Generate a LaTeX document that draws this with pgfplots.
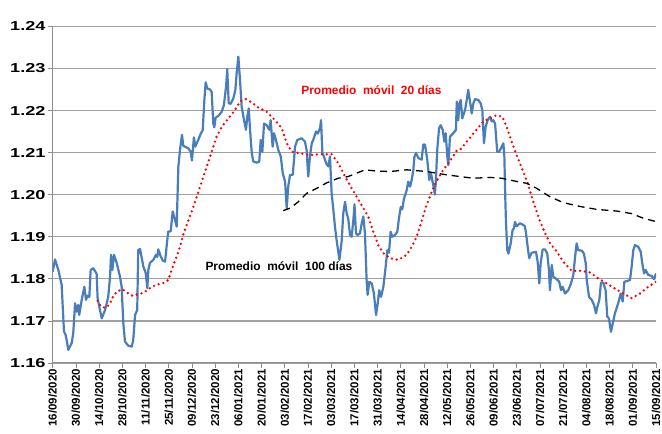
\documentclass[border=0pt]{standalone}
\usepackage{pgfplots}
\pgfplotsset{compat=1.18}
\usepackage{pgfplotstable}
\usepackage{graphicx}
\usepackage{fontspec}
\setmainfont{Liberation Sans}
\definecolor{serieblue}{RGB}{74,126,187}
\definecolor{gridgray}{RGB}{160,160,160}
\definecolor{axisgray}{RGB}{140,140,140}

\pgfplotstableread{
d v
0.0 1.1817
1.4 1.1846
3.4 1.1821
5.4 1.1786
6.8 1.1675
7.7 1.1668
8.4 1.1655
9.4 1.1631
11.5 1.1648
12.4 1.1671
13.5 1.1742
14.5 1.1722
15.4 1.1738
16.0 1.1714
17.5 1.1750
19.1 1.1781
20.1 1.1750
20.9 1.1760
22.1 1.1757
22.9 1.1821
24.5 1.1825
26.5 1.1812
27.1 1.1754
28.5 1.1726
29.6 1.1706
31.6 1.1726
33.5 1.1757
34.6 1.1805
35.2 1.1857
36.0 1.1821
37.0 1.1857
38.6 1.1838
40.6 1.1805
41.6 1.1781
42.6 1.1695
43.6 1.1651
45.6 1.1641
47.7 1.1639
48.6 1.1655
49.7 1.1714
51.0 1.1726
51.6 1.1868
52.7 1.1871
54.7 1.1829
56.1 1.1814
57.1 1.1778
57.7 1.1821
58.7 1.1838
60.7 1.1845
62.3 1.1857
63.1 1.1852
63.7 1.1870
65.0 1.1855
66.5 1.1843
67.8 1.1841
68.8 1.1880
69.7 1.1912
71.2 1.1913
72.4 1.1960
73.8 1.1940
74.8 1.1924
75.8 1.2066
76.8 1.2106
78.0 1.2142
78.8 1.2116
81.8 1.2110
83.3 1.2102
84.0 1.2081
85.2 1.2136
86.0 1.2114
87.8 1.2130
89.3 1.2145
90.5 1.2153
91.5 1.2225
92.3 1.2267
93.3 1.2252
94.9 1.2250
95.9 1.2244
96.9 1.2169
97.5 1.2160
98.3 1.2183
99.9 1.2187
102.0 1.2197
103.3 1.2213
104.6 1.2257
105.3 1.2298
106.2 1.2217
107.4 1.2216
109.0 1.2229
110.2 1.2249
111.0 1.2289
112.0 1.2328
113.0 1.2273
114.0 1.2209
115.4 1.2178
116.6 1.2154
117.4 1.2185
118.3 1.2205
119.0 1.2158
120.1 1.2099
121.0 1.2079
123.1 1.2076
124.6 1.2078
125.5 1.2130
126.5 1.2102
127.5 1.2169
129.1 1.2165
130.7 1.2154
131.5 1.2177
132.7 1.2114
133.5 1.2146
134.7 1.2130
136.1 1.2106
137.6 1.2091
138.8 1.2051
140.2 1.2031
141.2 1.1968
142.1 1.2019
143.2 1.2047
144.8 1.2047
145.6 1.2082
146.2 1.2114
147.6 1.2130
150.2 1.2134
152.2 1.2126
153.2 1.2106
154.2 1.2043
155.2 1.2091
156.3 1.2122
157.2 1.2130
158.9 1.2150
159.9 1.2145
161.3 1.2158
161.9 1.2177
162.7 1.2099
163.7 1.2090
164.9 1.2075
166.3 1.2067
167.3 1.2091
168.3 1.2003
169.3 1.1965
170.3 1.1924
171.3 1.1892
172.3 1.1864
173.0 1.1845
174.4 1.1892
175.3 1.1955
176.4 1.1983
177.4 1.1955
178.3 1.1943
179.4 1.1904
180.4 1.1900
181.4 1.1940
182.1 1.1977
183.0 1.1908
183.8 1.1904
185.4 1.1908
186.4 1.1931
187.4 1.1948
188.4 1.1908
189.4 1.1797
190.0 1.1762
191.0 1.1793
192.5 1.1789
193.8 1.1765
195.1 1.1714
196.1 1.1742
197.0 1.1773
198.1 1.1757
199.5 1.1781
200.9 1.1829
201.9 1.1868
202.9 1.1862
203.9 1.1912
204.9 1.1900
206.5 1.1904
207.9 1.1912
208.9 1.1943
210.0 1.1971
210.9 1.1965
211.9 1.1990
213.6 1.2011
214.5 1.2031
215.6 1.2019
216.6 1.2035
217.6 1.2059
218.2 1.2089
219.2 1.2099
220.6 1.2087
222.6 1.2083
223.6 1.2119
224.6 1.2119
226.0 1.2083
227.2 1.2035
228.2 1.2051
229.6 1.2023
230.6 1.2000
231.3 1.2043
232.0 1.2106
233.1 1.2158
234.1 1.2165
235.3 1.2154
236.3 1.2126
237.1 1.2146
238.1 1.2090
238.7 1.2070
239.7 1.2138
241.7 1.2146
243.3 1.2154
243.8 1.2221
244.7 1.2177
245.4 1.2217
246.2 1.2225
247.1 1.2181
248.8 1.2201
249.8 1.2225
250.7 1.2249
251.8 1.2221
252.8 1.2193
253.8 1.2217
254.8 1.2227
256.8 1.2225
258.2 1.2217
259.2 1.2201
260.2 1.2122
261.2 1.2161
262.4 1.2177
263.8 1.2185
264.9 1.2174
265.8 1.2177
266.9 1.2169
268.2 1.2102
269.4 1.2102
270.9 1.2114
271.9 1.2122
272.5 1.2091
273.1 1.1987
273.5 1.1932
274.3 1.1868
275.0 1.1860
276.3 1.1884
277.5 1.1916
278.3 1.1920
278.9 1.1935
279.9 1.1925
281.9 1.1932
283.9 1.1928
284.9 1.1925
285.6 1.1908
286.6 1.1875
287.5 1.1849
289.0 1.1862
291.6 1.1864
292.6 1.1840
293.6 1.1789
294.4 1.1837
295.6 1.1870
297.0 1.1870
298.4 1.1860
299.4 1.1821
300.0 1.1773
301.1 1.1833
302.0 1.1805
304.1 1.1799
305.6 1.1793
306.7 1.1773
307.7 1.1781
309.1 1.1765
311.1 1.1773
312.7 1.1789
314.1 1.1809
315.1 1.1849
316.1 1.1884
317.1 1.1868
319.2 1.1867
320.5 1.1860
321.6 1.1837
322.2 1.1797
323.6 1.1757
325.2 1.1750
326.6 1.1738
327.8 1.1718
328.6 1.1733
329.8 1.1750
330.8 1.1791
332.2 1.1791
333.6 1.1773
334.6 1.1710
335.6 1.1706
336.8 1.1674
337.9 1.1694
339.2 1.1718
341.2 1.1742
342.7 1.1765
343.9 1.1746
344.9 1.1793
346.7 1.1795
348.3 1.1797
349.3 1.1829
350.3 1.1868
351.3 1.1880
353.3 1.1876
354.8 1.1864
355.7 1.1837
356.8 1.1813
357.8 1.1821
359.3 1.1809
361.4 1.1807
362.8 1.1799
364.0 1.1813
}\daily

\pgfplotstableread{
d v
27.1 1.1748
29.0 1.1735
31.7 1.1731
34.1 1.1738
35.6 1.1750
36.6 1.1760
39.2 1.1771
42.2 1.1775
45.0 1.1767
48.0 1.1760
51.0 1.1763
54.3 1.1766
57.1 1.1773
59.7 1.1781
62.7 1.1786
66.7 1.1790
69.7 1.1797
71.2 1.1815
72.8 1.1833
74.8 1.1853
76.8 1.1876
78.8 1.1905
80.8 1.1928
83.9 1.1960
86.9 1.1995
89.9 1.2031
92.9 1.2066
95.9 1.2102
98.9 1.2138
102.2 1.2162
105.9 1.2181
110.0 1.2201
113.0 1.2221
116.6 1.2227
120.1 1.2219
124.0 1.2207
129.1 1.2197
134.1 1.2177
138.2 1.2158
141.2 1.2122
144.2 1.2102
149.2 1.2098
155.2 1.2094
161.3 1.2096
168.3 1.2096
172.3 1.2075
176.4 1.2043
180.4 1.2015
183.4 1.1995
186.4 1.1975
190.4 1.1948
193.4 1.1912
196.4 1.1880
199.5 1.1861
203.5 1.1849
208.5 1.1845
213.6 1.1857
216.6 1.1876
219.6 1.1900
222.2 1.1932
225.2 1.1971
228.7 1.2007
232.0 1.2035
235.7 1.2059
239.7 1.2080
243.7 1.2104
245.7 1.2106
250.7 1.2130
254.8 1.2150
259.8 1.2174
263.8 1.2181
267.9 1.2189
271.3 1.2185
273.9 1.2161
276.9 1.2126
279.9 1.2094
283.0 1.2063
286.3 1.2031
289.0 1.1995
291.6 1.1964
294.0 1.1937
297.0 1.1909
300.0 1.1885
304.1 1.1865
308.0 1.1841
313.1 1.1819
319.2 1.1819
324.2 1.1815
329.2 1.1801
334.2 1.1789
339.2 1.1777
344.3 1.1765
349.3 1.1754
354.3 1.1765
359.3 1.1781
364.0 1.1793
}\matwenty

\pgfplotstableread{
d v
139.1 1.1962
143.2 1.1968
148.2 1.1983
153.2 1.2003
159.3 1.2015
165.3 1.2028
172.3 1.2039
178.3 1.2043
183.4 1.2051
188.4 1.2059
195.5 1.2056
203.5 1.2055
213.6 1.2059
225.6 1.2055
237.7 1.2047
245.7 1.2043
253.8 1.2039
263.8 1.2041
270.9 1.2039
277.9 1.2033
286.0 1.2027
292.0 1.2015
300.0 1.1995
308.1 1.1981
318.1 1.1972
328.2 1.1965
340.3 1.1961
349.3 1.1955
356.3 1.1944
364.0 1.1936
}\mahundred

\begin{document}
\begin{tikzpicture}
\useasboundingbox (0,0) rectangle (662bp,434bp);
\begin{axis}[
  at={(52.7bp,71bp)}, anchor=south west,
  width=603.3bp, height=336.7bp, scale only axis,
  xmin=0, xmax=364, ymin=1.16, ymax=1.24,
  axis lines=left,
  axis line style={draw=axisgray, line width=1bp, -},
  /pgf/number format/assume math mode=true,
  xtick={0,14,...,364},
  xticklabels={16/09/2020,30/09/2020,14/10/2020,28/10/2020,11/11/2020,25/11/2020,09/12/2020,23/12/2020,06/01/2021,20/01/2021,03/02/2021,17/02/2021,03/03/2021,17/03/2021,31/03/2021,14/04/2021,28/04/2021,12/05/2021,26/05/2021,09/06/2021,23/06/2021,07/07/2021,21/07/2021,04/08/2021,18/08/2021,01/09/2021,15/09/2021},
  xticklabel style={rotate=90, anchor=east, font=\fontsize{11.5}{12}\selectfont\bfseries, inner sep=1bp},
  ytick={1.16,1.17,...,1.24},
  yticklabel={\scalebox{1.4}[1]{\pgfmathprintnumber[fixed,fixed zerofill,precision=2,assume math mode=true]{\tick}}},
  yticklabel style={font=\fontsize{13}{14}\selectfont\bfseries, anchor=east, inner sep=1bp, xshift=-1bp},
  tick align=outside,
  major tick length=5bp,
  tick style={draw=axisgray, line width=0.8bp},
  ymajorgrids,
  grid style={draw=gridgray, line width=1.2bp},
  clip=true,
]
\addplot[serieblue, line width=2.2bp, line join=round] table[x=d,y=v] {\daily};
\addplot[red, line width=2.6bp, line cap=round, dash pattern=on 0bp off 4.9bp] table[x=d,y=v] {\matwenty};
\addplot[black, line width=1.3bp, dash pattern=on 7bp off 5bp] table[x=d,y=v] {\mahundred};
\node[text=red, font=\fontsize{12}{13}\selectfont\bfseries] at (axis cs:192.3,1.2249) {Promedio\ \ móvil\ \ 20 días};
\node[text=black, font=\fontsize{12}{13}\selectfont\bfseries] at (axis cs:136.5,1.1830) {Promedio\ \ móvil\ \ 100 días};
\end{axis}
\end{tikzpicture}
\end{document}
